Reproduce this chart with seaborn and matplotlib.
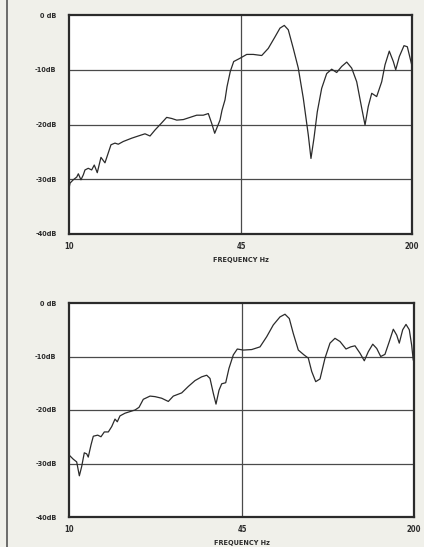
import matplotlib
matplotlib.use("Agg")
import matplotlib.pyplot as plt
import pandas as pd
import seaborn as sns
from matplotlib.lines import Line2D

# --- Data ---
top_freq = [10.0, 10.09, 10.38, 10.70, 10.85, 11.10, 11.33, 11.50, 11.83, 12.19,
            12.47, 12.80, 13.22, 13.69, 14.43, 14.94, 15.38, 16.07, 17.29, 18.31,
            19.42, 20.29, 21.20, 22.47, 23.47, 24.52, 25.62, 27.14, 28.77, 30.51,
            32.31, 33.76, 34.78, 35.70, 37.39, 38.05, 39.06, 39.75, 40.91, 42.14,
            44.54, 47.21, 50.02, 53.83, 57.00, 60.44, 63.13, 65.55, 67.88, 70.91,
            74.08, 77.39, 80.84, 82.76, 84.96, 87.44, 90.87, 94.93, 99.17, 103.6,
            108.2, 113.1, 118.1, 123.4, 128.9, 132.7, 136.5, 140.7, 146.9, 153.5,
            158.0, 164.0, 169.9, 173.5, 179.0, 186.5, 192.0, 199.5]
top_db = [-31.7, -30.7, -30.1, -29.6, -29.0, -30.1, -29.2, -28.3, -28.0, -28.3,
          -27.4, -28.8, -26.0, -27.0, -23.7, -23.4, -23.6, -23.1, -22.5, -22.1,
          -21.7, -22.1, -21.0, -19.7, -18.7, -18.9, -19.2, -19.1, -18.7, -18.3,
          -18.3, -18.0, -19.8, -21.6, -19.2, -17.4, -15.5, -13.1, -10.3, -8.5,
          -7.9, -7.2, -7.2, -7.4, -6.1, -4.0, -2.4, -1.9, -2.7, -6.1,
          -9.7, -15.2, -21.9, -26.2, -22.5, -17.7, -13.4, -10.7, -9.9, -10.5,
          -9.4, -8.6, -9.7, -12.2, -17.0, -20.1, -16.7, -14.3, -14.9, -12.2,
          -9.1, -6.6, -8.5, -10.0, -7.6, -5.6, -5.8, -9.1]

bottom_freq = [10.0, 10.38, 10.69, 10.94, 11.16, 11.42, 11.66, 11.82, 12.11, 12.35,
               12.83, 13.20, 13.59, 14.07, 14.49, 14.91, 15.21, 15.57, 16.26, 16.98,
               17.74, 18.37, 19.06, 20.21, 21.10, 22.36, 23.69, 24.74, 26.61, 28.18,
               29.87, 31.65, 33.06, 34.02, 35.02, 35.84, 36.79, 37.66, 38.99, 40.12,
               41.65, 43.12, 45.43, 48.87, 52.52, 55.66, 58.94, 62.47, 65.24, 67.72,
               70.12, 73.24, 76.95, 79.88, 82.28, 85.19, 88.43, 92.35, 96.43, 100.7,
               105.2, 110.8, 115.4, 119.8, 125.2, 129.9, 134.5, 139.8, 144.7, 149.8,
               155.4, 161.4, 167.1, 172.1, 176.0, 181.3, 186.6, 192.0, 196.0, 198.7]
bottom_db = [-28.4, -29.2, -29.7, -32.3, -30.6, -28.0, -28.2, -28.8, -26.5, -24.9,
             -24.7, -25.0, -24.1, -24.1, -23.1, -21.7, -22.2, -21.1, -20.6, -20.3,
             -20.0, -19.5, -18.0, -17.4, -17.5, -17.8, -18.4, -17.4, -16.8, -15.6,
             -14.5, -13.8, -13.5, -14.1, -16.9, -18.9, -16.3, -15.1, -14.9, -12.2,
             -9.7, -8.6, -8.8, -8.7, -8.2, -6.3, -4.1, -2.6, -2.1, -2.9,
             -5.7, -8.8, -9.7, -10.3, -12.8, -14.7, -14.2, -10.3, -7.5, -6.6,
             -7.2, -8.6, -8.2, -8.0, -9.4, -10.8, -9.1, -7.7, -8.5, -10.0,
             -9.6, -7.2, -4.9, -6.0, -7.5, -5.0, -4.0, -5.0, -7.9, -10.7]

y_ticks = [0, -10, -20, -30, -40]
y_labels = ["0 dB", "-10dB", "-20dB", "-30dB", "-40dB"]
x_ticks = [10, 45, 200]
x_labels = ["10", "45", "200"]

sns.set_style("white")
plt.rcParams["font.family"] = ["DejaVu Sans"]

ink = "#2b2b2b"
paper = "#f0f0ea"
lab = dict(fontweight="bold", color=ink, fontstretch="condensed")

fig = plt.figure(figsize=(4.24, 5.47), dpi=100, facecolor=paper)
ax_top = fig.add_axes([69 / 424, 1 - 234 / 547, 343 / 424, 219 / 547])
ax_bot = fig.add_axes([69 / 424, 1 - 517 / 547, 345 / 424, 214 / 547])

# scan border on the left edge
fig.add_artist(Line2D([6.5 / 424, 6.5 / 424], [0.0, 1.0], color="#555555", lw=1.2,
                      transform=fig.transFigure))

for ax, freq, db in [(ax_top, top_freq, top_db), (ax_bot, bottom_freq, bottom_db)]:
    df = pd.DataFrame({"freq": freq, "db": db})
    ax.set_facecolor("white")
    for g in [-10, -20, -30]:
        ax.axhline(g, color="#4a4a4a", lw=0.9, zorder=1)
    ax.axvline(45, color="#4a4a4a", lw=0.9, zorder=1)
    sns.lineplot(data=df, x="freq", y="db", sort=False, ax=ax, color=ink, lw=0.9,
                 zorder=3)
    ax.set_xscale("log")
    ax.set_xlim(10, 200)
    ax.set_ylim(-40, 0)
    ax.set_yticks(y_ticks)
    ax.set_yticklabels(y_labels, fontsize=5.2, **lab)
    ax.set_xticks(x_ticks)
    ax.set_xticklabels(x_labels, fontsize=5.5, **lab)
    ax.xaxis.set_minor_locator(plt.NullLocator())
    ax.tick_params(axis="both", length=0)
    ax.tick_params(axis="y", pad=9)
    ax.tick_params(axis="x", pad=6)
    ax.set_ylabel("")
    ax.set_xlabel("FREQUENCY Hz", fontsize=5.2, labelpad=4, **lab)
    for s in ax.spines.values():
        s.set_visible(True)
        s.set_color(ink)
        s.set_linewidth(1.6)

fig.savefig("out.png", dpi=100, facecolor=paper)
